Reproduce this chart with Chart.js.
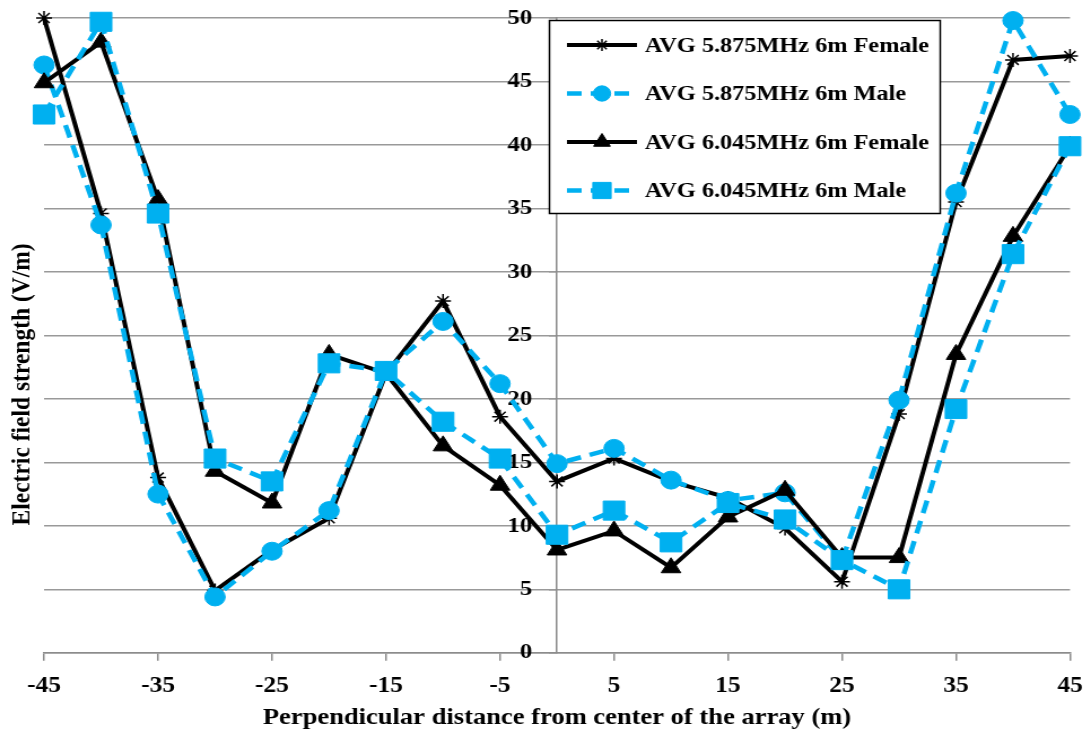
<!DOCTYPE html>
<html>
<head>
<meta charset="utf-8">
<script src="https://cdn.jsdelivr.net/npm/chart.js@4.4.1/dist/chart.umd.min.js"></script>
<style>
  body { margin: 0; background: #fff; overflow: hidden; }
  /* el gráfico se dibuja más angosto y se estira a lo ancho */
  #wrap { width: 966px; height: 734px; transform: scaleX(1.1294); transform-origin: 0 0; }
</style>
</head>
<body>
<div id="wrap"><canvas id="myChart" width="966" height="734"></canvas></div>
<script>
// distancias (m) y valores promedio del campo (V/m)
const distancias = [-45, -40, -35, -30, -25, -20, -15, -10, -5, 0, 5, 10, 15, 20, 25, 30, 35, 40, 45];
const xTicks = [-45, -35, -25, -15, -5, 5, 15, 25, 35, 45];

const female5875 = [50.0, 34.6, 13.8, 4.9, 8.1, 10.6, 22.0, 27.7, 18.6, 13.5, 15.3, 13.5, 12.2, 9.8, 5.6, 18.8, 35.5, 46.7, 47.0];
const male5875 = [46.3, 33.7, 12.5, 4.4, 8.0, 11.2, 22.2, 26.1, 21.2, 14.9, 16.1, 13.6, 12.0, 12.6, 7.3, 19.9, 36.2, 49.8, 42.4];
const female6045 = [44.9, 48.1, 35.7, 14.3, 11.8, 23.5, 22.0, 16.3, 13.2, 8.1, 9.6, 6.7, 10.7, 12.8, 7.5, 7.5, 23.5, 32.8, 39.9];
const male6045 = [42.4, 49.7, 34.6, 15.3, 13.5, 22.8, 22.2, 18.2, 15.3, 9.3, 11.2, 8.7, 11.8, 10.5, 7.3, 5.0, 19.2, 31.4, 39.9];

const etiquetas = [
  "AVG 5.875MHz 6m Female",
  "AVG 5.875MHz 6m Male",
  "AVG 6.045MHz 6m Female",
  "AVG 6.045MHz 6m Male",
];

const fuente = "'Liberation Serif', 'Times New Roman', serif";
const azul = "#00b0f0";

const estilos = [
  { color: "#000", dash: [], punto: "star", radio: 7, ancho: 4, borde: 1.5 },
  { color: azul, dash: [13, 8], punto: "circle", radio: 9, ancho: 4.5, borde: 1 },
  { color: "#000", dash: [], punto: "triangle", radio: 10, ancho: 4, borde: 1 },
  { color: azul, dash: [13, 8], punto: "rect", radio: 13.5, ancho: 4.5, borde: 1 },
];

const series = [female5875, male5875, female6045, male6045];

const datasets = series.map((valores, i) => ({
  label: etiquetas[i],
  data: valores.map((v, j) => ({ x: distancias[j], y: v })),
  borderColor: estilos[i].color,
  backgroundColor: estilos[i].color,
  borderWidth: estilos[i].ancho,
  borderDash: estilos[i].dash,
  pointStyle: estilos[i].punto,
  pointRadius: estilos[i].radio,
  pointBorderWidth: estilos[i].borde,
  pointBackgroundColor: estilos[i].color,
  pointBorderColor: estilos[i].color,
  tension: 0,
  clip: false,
  order: 4 - i, // la última serie queda encima
}));

// título del eje Y a la izquierda y leyenda con recuadro
const extras = {
  id: "extras",
  afterDraw(chart) {
    const ctx = chart.ctx;
    const area = chart.chartArea;

    ctx.save();
    ctx.translate(19.5, (area.top + area.bottom) / 2 + 49);
    ctx.rotate(-Math.PI / 2);
    ctx.font = "bold 23.5px " + fuente;
    ctx.fillStyle = "#000";
    ctx.textAlign = "center";
    ctx.textBaseline = "middle";
    ctx.fillText("Electric field strength (V/m)", 0, 0);
    ctx.restore();

    const bx = 486.5, by = 20.5, bw = 346, bh = 193;
    ctx.save();
    ctx.fillStyle = "#fff";
    ctx.fillRect(bx, by, bw, bh);
    ctx.strokeStyle = "#000";
    ctx.lineWidth = 1.5;
    ctx.strokeRect(bx, by, bw, bh);

    datasets.forEach((ds, i) => {
      const y = 45 + i * 48.5;
      const est = estilos[i];
      ctx.strokeStyle = est.color;
      ctx.lineWidth = est.ancho;
      ctx.setLineDash(est.dash);
      ctx.beginPath();
      ctx.moveTo(502, y);
      ctx.lineTo(564, y);
      ctx.stroke();
      ctx.setLineDash([]);
      ctx.fillStyle = est.color;
      ctx.lineWidth = est.borde;
      Chart.helpers.drawPoint(ctx, {
        pointStyle: est.punto,
        radius: est.radio * 0.85,
        borderWidth: est.borde,
        rotation: 0,
      }, 533, y);
      ctx.fillStyle = "#000";
      ctx.font = "bold 21.5px " + fuente;
      ctx.textAlign = "left";
      ctx.textBaseline = "middle";
      ctx.fillText(ds.label, 571, y + 1);
    });
    ctx.restore();
  },
};

const ctx = document.getElementById("myChart");

new Chart(ctx, {
  type: "line",
  data: { datasets: datasets },
  options: {
    responsive: false,
    animation: false,
    layout: { padding: { left: 39, right: 18.6, top: 18, bottom: 2 } },
    plugins: {
      legend: { display: false },
      tooltip: { enabled: false },
    },
    scales: {
      x: {
        type: "linear",
        min: -45,
        max: 45,
        afterBuildTicks: (scale) => {
          scale.ticks = xTicks.map((v) => ({ value: v }));
        },
        // el margen lo fija layout.padding
        afterFit: (scale) => {
          scale.paddingLeft = 0;
          scale.paddingRight = 0;
        },
        grid: { drawOnChartArea: false, drawTicks: true, tickLength: 8, color: "#8c8c8c", lineWidth: 1.5 },
        border: { color: "#8c8c8c", width: 1.5 },
        ticks: {
          color: "#000",
          padding: 12,
          maxRotation: 0,
          font: { family: fuente, size: 22.5, weight: "bold" },
        },
        title: {
          display: true,
          text: "Perpendicular distance from center of the array (m)",
          color: "#000",
          padding: { top: -8, bottom: 0 },
          font: { family: fuente, size: 23.5, weight: "bold" },
        },
      },
      y: {
        position: { x: 0 },
        min: 0,
        max: 50,
        ticks: {
          stepSize: 5,
          color: "#000",
          // etiquetas a la izquierda del eje central, separadas de la línea
          callback: (v) => v + "    ",
          font: { family: fuente, size: 22, weight: "bold" },
        },
        grid: { color: "#999", lineWidth: 1.5, tickLength: 6 },
        border: { color: "#8c8c8c", width: 1.5 },
      },
    },
  },
  plugins: [extras],
});
</script>
</body>
</html>
